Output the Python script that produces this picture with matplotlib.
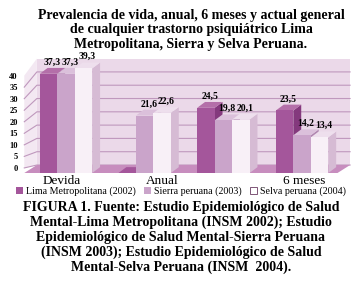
import matplotlib.pyplot as plt
from matplotlib.patches import Polygon, Patch

# data
categories = ['Devida', 'Anual', '', '6 meses']
series_names = ['Lima Metropolitana (2002)', 'Sierra peruana (2003)', 'Selva peruana (2004)']
lima = [37.3, 0.0, 24.5, 23.5]
sierra = [37.3, 21.6, 19.8, 14.2]
selva = [39.3, 22.6, 20.1, 13.4]
yticks = [0, 5, 10, 15, 20, 25, 30, 35, 40]

title = ('Prevalencia de vida, anual, 6 meses y actual general\n'
         'de cualquier trastorno psiquiátrico Lima\n'
         'Metropolitana, Sierra y Selva Peruana.')
caption = ('FIGURA 1. Fuente: Estudio Epidemiológico de Salud\n'
           'Mental-Lima Metropolitana (INSM 2002); Estudio\n'
           'Epidemiológico de Salud Mental-Sierra Peruana\n'
           '(INSM 2003); Estudio Epidemiológico de Salud\n'
           'Mental-Selva Peruana (INSM  2004).')

# face colours: front, side, top
faces = [('#a4569b', '#84397d', '#b46fa9'),
         ('#caa4ca', '#b087b0', '#dbc0db'),
         ('#f8f0f7', '#d6bbd4', '#eedfed')]

plt.rcParams['font.family'] = 'Liberation Serif'

W, H = 362, 293
fig = plt.figure(figsize=(W / 100, H / 100), dpi=100)
fig.patch.set_facecolor('white')

# axes placed in pixel terms
px_l, px_r, px_b, px_t = 22, 356, 176, 55
ax = fig.add_axes([px_l / W, 1 - px_b / H, (px_r - px_l) / W, (px_b - px_t) / H])
ax.set_xlim(-0.559, 3.685)
ax.set_ylim(-1.13, 44.36)
for s in ax.spines.values():
    s.set_visible(False)
ax.set_facecolor('none')

x0 = -0.53           # front left edge of floor / side wall
xr = 3.61            # right edge of back wall
dxw, dyw = 0.16, 3.0   # wall depth
dx, dy = 0.10, 2.2     # bar depth
top = 40
bw = 0.222


def left_wall(t):
    # tick positions on the receding left wall
    return 1.9 + 0.868 * t


# left wall and back wall
ax.add_patch(Polygon([(x0, left_wall(0)), (x0 + dxw, dyw), (x0 + dxw, top + dyw), (x0, left_wall(top))],
                     closed=True, fc='#f3e8f2', ec='none', zorder=0))
ax.add_patch(Polygon([(x0 + dxw, dyw), (xr, dyw), (xr, top + dyw), (x0 + dxw, top + dyw)],
                     closed=True, fc='#ebd9e9', ec='none', zorder=0))
for t in yticks[:-1]:
    ax.plot([x0, x0 + dxw, xr], [left_wall(t), t + dyw, t + dyw], color='#bf98bd', lw=0.8, zorder=1)

# floor
ax.add_patch(Polygon([(x0, 0), (xr - dxw, 0), (xr, dyw), (x0 + dxw, dyw)],
                     closed=True, fc='#c78dbe', ec='none', zorder=1))

series = [lima, sierra, selva]
z = 2
for g in range(len(categories)):
    for k, vals in enumerate(series):
        v = vals[g]
        xl = g + (k - 1.5) * bw
        xrr = xl + bw
        front, side, topc = faces[k]
        ax.add_patch(Polygon([(xrr, 0), (xrr + dx, dy), (xrr + dx, v + dy), (xrr, v)],
                             closed=True, fc=side, ec='none', zorder=z))
        ax.add_patch(Polygon([(xl, v), (xl + dx, v + dy), (xrr + dx, v + dy), (xrr, v)],
                             closed=True, fc=topc if v > 0 else front, ec='none', zorder=z))
        ax.bar(xl, v, width=bw, align='edge', color=front, edgecolor='none', zorder=z)
        if v > 0:
            ax.text(xl + bw / 2 + dx / 2, v + dy + 0.5, f'{v:.1f}'.replace('.', ','),
                    ha='center', va='bottom', fontsize=7, fontweight='bold', zorder=20)
        z += 1

label_shift = [-0.05, 0.22, 0.0, 0.03]
ax.set_xticks([g + label_shift[g] for g in range(len(categories))])
ax.set_xticklabels(categories, fontsize=9.5)
ax.set_yticks([left_wall(t) for t in yticks])
ax.set_yticklabels([str(t) for t in yticks], fontsize=6, fontweight='bold')
ax.tick_params(axis='both', length=0)
ax.tick_params(axis='y', pad=3)
ax.tick_params(axis='x', pad=-1)

fig.text(191 / W, 1 - 9 / H, title, ha='center', va='top', fontsize=10,
         fontweight='bold', linespacing=1.15)

handles = [Patch(fc=faces[0][0], ec='none'),
           Patch(fc=faces[1][0], ec='none'),
           Patch(fc='white', ec='#6a3a62', lw=0.6)]
fig.legend(handles, series_names, loc='center', bbox_to_anchor=(0.5, 1 - 191 / H),
           ncol=3, frameon=False, fontsize=7.2, handlelength=0.7, handleheight=0.7,
           handletextpad=0.3, columnspacing=0.8, borderpad=0)

fig.text(0.5, 1 - 201 / H, caption, ha='center', va='top', fontsize=10,
         fontweight='bold', linespacing=1.15)

fig.savefig('out.png', dpi=100)
